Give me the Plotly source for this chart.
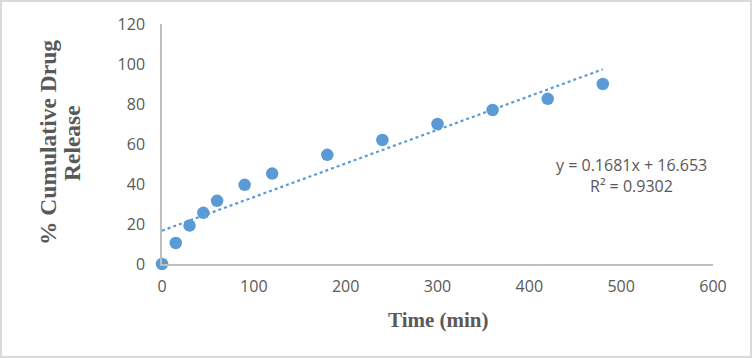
import plotly.graph_objects as go

time_min = [0, 15, 30, 45, 60, 90, 120, 180, 240, 300, 360, 420, 480]
release = [0, 10.5, 19.2, 25.6, 31.6, 39.6, 45.2, 54.6, 62.0, 70.0, 77.0, 82.6, 90.0]
slope = 0.1681
intercept = 16.653
r2 = 0.9302
x_ticks = [0, 100, 200, 300, 400, 500, 600]
y_ticks = [0, 20, 40, 60, 80, 100, 120]
y_title_lines = ["% Cumulative Drug", "Release"]

W, H = 752, 358
L, R, T, B = 162, 39, 24, 94
pw, ph = W - L - R, H - T - B


def px(x):
    return (x - L) / pw


def py(y):
    return (H - B - y) / ph


trend_x = [min(time_min), max(time_min)]
trend_y = [slope * v + intercept for v in trend_x]

fig = go.Figure()
fig.add_trace(go.Scatter(x=trend_x, y=trend_y, mode="lines",
                         line=dict(color="#5b9bd5", width=2.2, dash="dot"),
                         hoverinfo="skip", showlegend=False))
fig.add_trace(go.Scatter(x=time_min, y=release, mode="markers",
                         marker=dict(color="#5b9bd5", size=12.5),
                         cliponaxis=False, showlegend=False))

sans = "Open Sans, Liberation Sans, sans-serif"
serif = "Liberation Serif, Times New Roman, serif"
tick_font = dict(family=sans, size=16, color="#595959")
ytitle_font = dict(family=serif, size=23.5, color="#595959")

annotations = [
    dict(xref="paper", yref="paper", x=px(438), y=py(320),
         text="<b>Time (min)</b>", showarrow=False,
         font=dict(family=serif, size=21, color="#595959"),
         xanchor="center", yanchor="middle"),
    dict(xref="paper", yref="paper", x=px(631), y=py(165),
         text=f"y = {slope}x + {intercept}", showarrow=False,
         font=dict(family=sans, size=16, color="#595959"),
         xanchor="center", yanchor="middle"),
    dict(xref="paper", yref="paper", x=px(631), y=py(186),
         text=f"R² = {r2}", showarrow=False,
         font=dict(family=sans, size=16, color="#595959"),
         xanchor="center", yanchor="middle"),
]
for cx, line in zip([48, 72], y_title_lines):
    annotations.append(dict(xref="paper", yref="paper", x=px(cx), y=py(143),
                            text=f"<b>{line}</b>", showarrow=False, textangle=-90,
                            font=ytitle_font, xanchor="center", yanchor="middle"))

fig.update_layout(
    width=W, height=H,
    margin=dict(l=L, r=R, t=T, b=B),
    paper_bgcolor="white", plot_bgcolor="white",
    xaxis=dict(range=[0, 600], tickvals=x_ticks, showgrid=False, zeroline=False,
               showline=True, linecolor="#bfbfbf", linewidth=1.5, ticks="",
               tickfont=tick_font, ticklabelstandoff=7),
    yaxis=dict(range=[0, 120], tickvals=y_ticks, showgrid=False, zeroline=False,
               showline=True, linecolor="#bfbfbf", linewidth=1.5, ticks="",
               tickfont=tick_font, ticklabelstandoff=12),
    annotations=annotations,
    shapes=[dict(type="rect", xref="paper", yref="paper",
                 x0=px(1), x1=px(W - 1), y0=py(H - 1), y1=py(1),
                 line=dict(color="#d9d9d9", width=2), fillcolor="rgba(0,0,0,0)")],
)

fig.write_html("out.html", config={"displayModeBar": False},
               post_script="document.body.style.margin='0';")
